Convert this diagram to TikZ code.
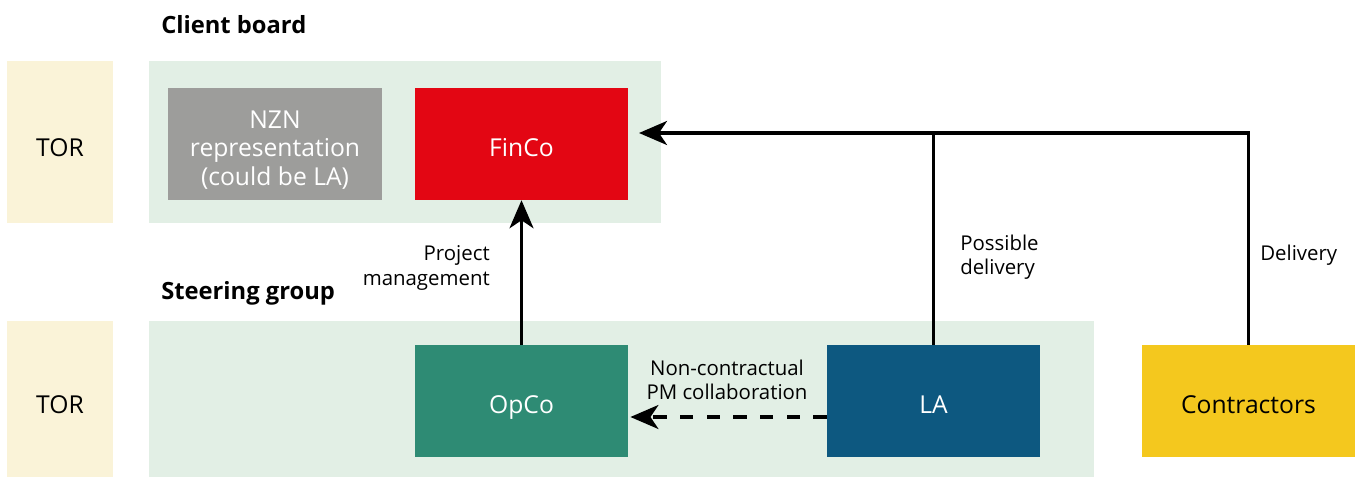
\documentclass[tikz,border=0pt]{standalone}
\usepackage{fontspec}
\setmainfont{Open Sans}
\usetikzlibrary{arrows.meta}

\definecolor{panelgreen}{HTML}{E2EFE5}
\definecolor{torcream}{HTML}{FAF3D8}
\definecolor{nzngrey}{HTML}{9D9D9B}
\definecolor{fincored}{HTML}{E30613}
\definecolor{opcogreen}{HTML}{2E8B74}
\definecolor{lablue}{HTML}{0D5880}
\definecolor{contractyellow}{HTML}{F4C81E}

\begin{document}
\begin{tikzpicture}[x=0.75pt,y=-0.75pt]
 \tikzset{block/.style = {shape=rectangle,minimum width=160pt,minimum height=84pt,inner sep=0pt,
   align=center,text=white,text height=18.2pt,text depth=0pt,font=\fontsize{18.5}{21.5}\selectfont}}
 \tikzset{tor/.style = {shape=rectangle,fill=torcream,minimum width=79.5pt,inner sep=0pt,
   text height=21pt,text depth=0pt,font=\fontsize{18.5}{21.5}\selectfont}}
 \tikzset{title/.style = {anchor=west,inner sep=0pt,font=\fontsize{17.8}{21}\selectfont\bfseries}}
 \tikzset{label/.style = {inner sep=0pt,font=\fontsize{15.3}{18.3}\selectfont}}
 \tikzset{edge/.style = {-{Stealth[length=21pt,width=18pt,inset=6pt]},line width=2.3pt}}
 \useasboundingbox (0,0) rectangle (1359,478);

 % background panels
 \fill[panelgreen] (149,61) rectangle (661,223);
 \fill[panelgreen] (149,321) rectangle (1094,477);

 \node[tor,minimum height=121.5pt] (tor1) at (60,142) {TOR};
 \node[tor,minimum height=117pt] (tor2) at (60,399) {TOR};

 \node[title] (client) at (161,25) {Client board};
 \node[title] (steering) at (161,293) {Steering group};

 \node[block,fill=nzngrey,text height=62pt] (nzn) at (275,144) {NZN\\representation\\(could be LA)};
 \node[block,fill=fincored] (finco) at (521.5,144) {FinCo};
 \node[block,fill=opcogreen] (opco) at (521.5,401) {OpCo};
 \node[block,fill=lablue] (la) at (933.5,401) {LA};
 \node[block,fill=contractyellow,text=black] (contractors) at (1248.5,401) {Contractors};

 \coordinate (join) at (639,133);
 \draw[edge] (opco.north) -- (finco.south);
 \draw[edge] (contractors.north) |- (join);
 \draw[line width=2.3pt] (la.north) -- (la.north |- join);
 \draw[edge,dash pattern=on 10pt off 10pt] ([yshift=-12pt]la.west) -- ([yshift=-12pt,xshift=1.5pt]opco.east);

 \node[label,anchor=east,align=right] (pm) at (490,268) {Project\\management};
 \node[label,anchor=west,align=left] (possible) at (960,257) {Possible\\delivery};
 \node[label,anchor=west] (delivery) at (1260,255) {Delivery};
 \node[label,align=center] (noncontract) at (727,380) {Non-contractual\\PM collaboration};

\end{tikzpicture}
\end{document}
